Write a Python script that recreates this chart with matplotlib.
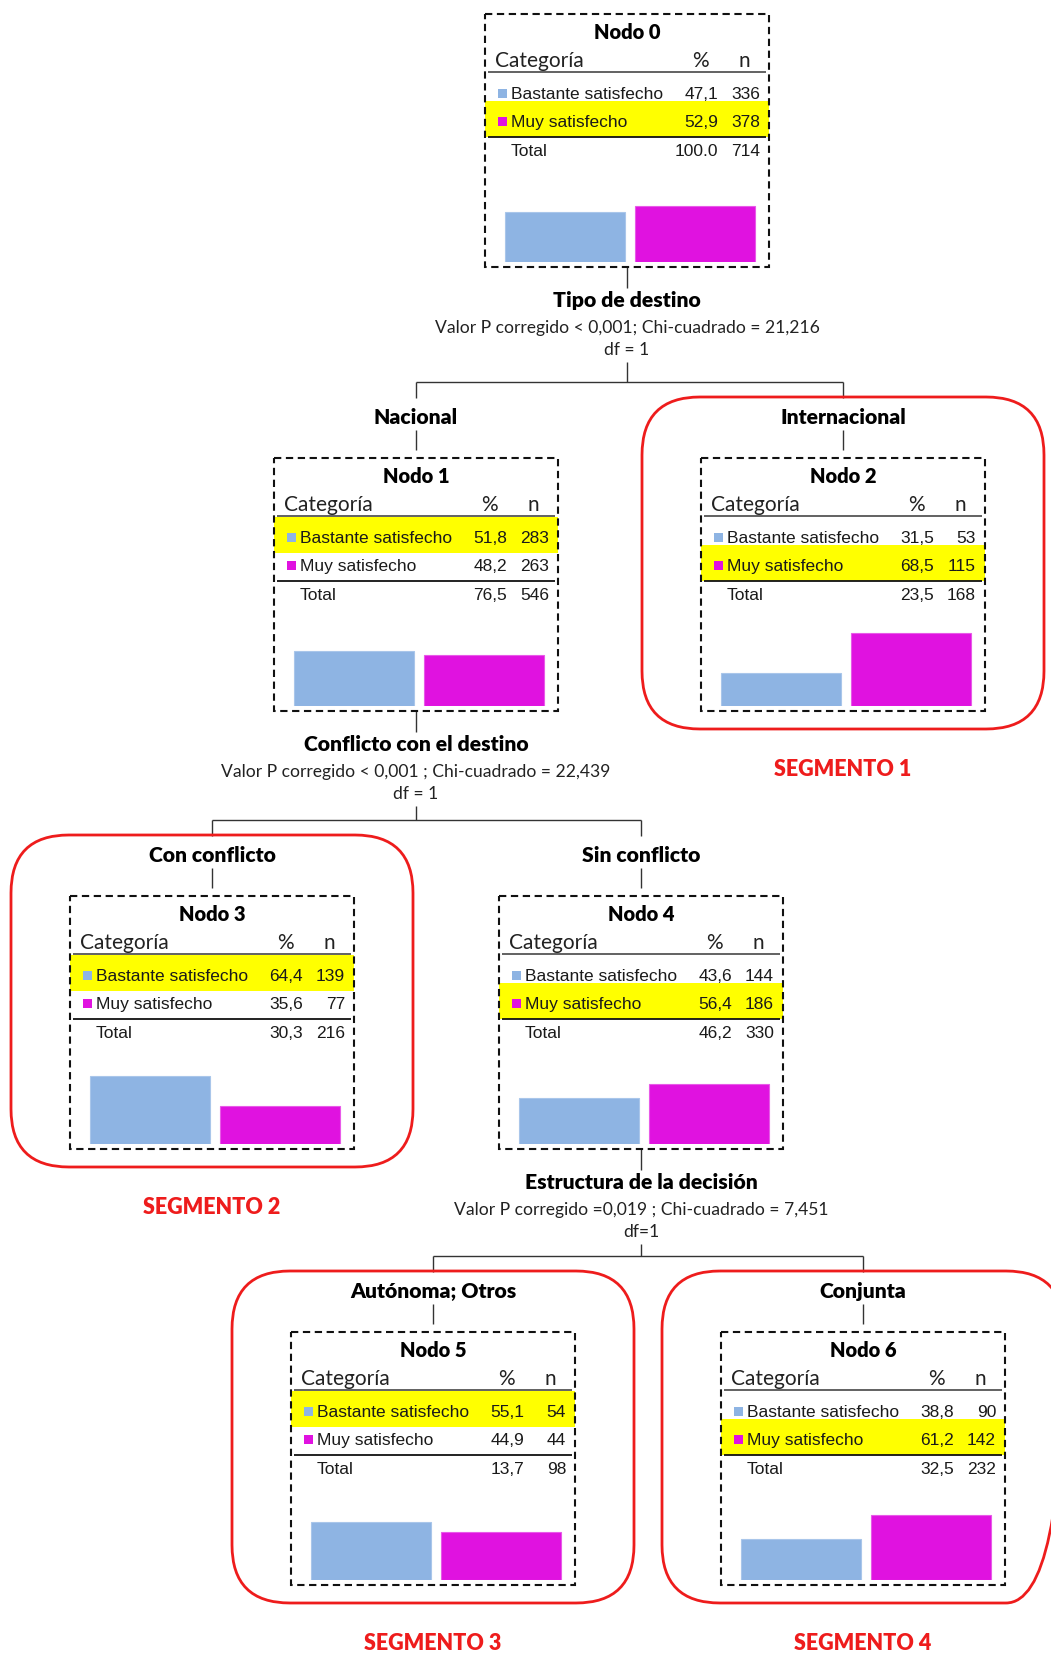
import matplotlib
matplotlib.use("Agg")
import matplotlib.pyplot as plt
from matplotlib.patches import Rectangle, FancyBboxPatch

# ---------------- data ----------------
categories = ["Bastante satisfecho", "Muy satisfecho"]
node_ids = [0, 1, 2, 3, 4, 5, 6]
pct_bastante = [47.1, 51.8, 31.5, 64.4, 43.6, 55.1, 38.8]
pct_muy = [52.9, 48.2, 68.5, 35.6, 56.4, 44.9, 61.2]
n_bastante = [336, 283, 53, 139, 144, 54, 90]
n_muy = [378, 263, 115, 77, 186, 44, 142]
total_pct_labels = ["100.0", "76,5", "23,5", "30,3", "46,2", "13,7", "32,5"]
n_total = [714, 546, 168, 216, 330, 98, 232]

split_parents = [0, 1, 4]
split_vars = ["Tipo de destino", "Conflicto con el destino", "Estructura de la decisión"]
split_stats = ["Valor P corregido < 0,001; Chi-cuadrado = 21,216",
               "Valor P corregido < 0,001 ; Chi-cuadrado = 22,439",
               "Valor P corregido =0,019 ; Chi-cuadrado = 7,451"]
split_df = ["df = 1", "df = 1", "df=1"]
split_children = [(1, 2), (3, 4), (5, 6)]
branch_labels = {1: "Nacional", 2: "Internacional", 3: "Con conflicto",
                 4: "Sin conflicto", 5: "Autónoma; Otros", 6: "Conjunta"}
segment_nodes = [2, 3, 5, 6]
segment_labels = ["SEGMENTO 1", "SEGMENTO 2", "SEGMENTO 3", "SEGMENTO 4"]

# ---------------- layout (pixels) ----------------
W, H = 1051, 1655
node_pos = {0: (485, 14), 1: (274, 458), 2: (701, 458), 3: (70, 896),
            4: (499, 896), 5: (291, 1332), 6: (721, 1332)}
BW, BH = 284, 253

C_BLUE = "#8EB4E3"
C_MAG = "#E012E0"
C_YEL = "#FFFF00"
C_RED = "#EE1C1C"
C_LINE = "#333333"

CAL = ["Lato", "DejaVu Sans"]
NAR = ["Liberation Sans", "DejaVu Sans"]
FS_ROW = 12.5

fig = plt.figure(figsize=(W / 100, H / 100), dpi=100)
fig.patch.set_facecolor("white")
ax = fig.add_axes([0, 0, 1, 1])
ax.set_xlim(0, W)
ax.set_ylim(H, 0)
ax.axis("off")


def fmt(v):
    return f"{v:.1f}".replace(".", ",")


def line(x0, y0, x1, y1, **kw):
    ax.plot([x0, x1], [y0, y1], color=kw.get("color", C_LINE), lw=kw.get("lw", 1.0),
            solid_capstyle="butt", zorder=kw.get("zorder", 2))


# ---------------- nodes ----------------
for i in node_ids:
    L, T = node_pos[i]
    cx = L + BW / 2
    hl = 0 if pct_bastante[i] > pct_muy[i] else 1
    row_base = [T + 85, T + 113]
    yb = row_base[hl]
    ax.add_patch(Rectangle((L, yb - 26), BW, 36, facecolor=C_YEL, edgecolor="none", zorder=1))
    ax.add_patch(Rectangle((L, T), BW, BH, facecolor="none", edgecolor="#111111",
                           lw=1.5, linestyle=(0, (3.5, 2.2)), zorder=4))
    ax.text(cx, T + 25, f"Nodo {i}", family=CAL, fontweight="heavy", fontsize=14.5,
            ha="center", va="baseline", color="black", zorder=5)
    ax.text(L + 10, T + 53, "Categoría", family=CAL, fontsize=15, ha="left",
            va="baseline", color="#222222", zorder=5)
    ax.text(L + 215, T + 53, "%", family=CAL, fontsize=15, ha="center",
            va="baseline", color="#222222", zorder=5)
    ax.text(L + 259, T + 53, "n", family=CAL, fontsize=15, ha="center",
            va="baseline", color="#222222", zorder=5)
    line(L + 3, T + 58, L + BW - 3, T + 58, color="#555555", lw=1.3)
    line(L + 3, T + 123, L + BW - 3, T + 123, color="#111111", lw=1.3)
    vals = [(categories[0], pct_bastante[i], n_bastante[i], C_BLUE),
            (categories[1], pct_muy[i], n_muy[i], C_MAG)]
    for r, (lab, p, n, col) in enumerate(vals):
        b = row_base[r]
        ax.add_patch(Rectangle((L + 13, b - 10), 9, 9, facecolor=col, edgecolor="none", zorder=5))
        ax.text(L + 26, b, lab, family=NAR, fontsize=FS_ROW, ha="left", va="baseline",
                color="#1a1a1a", zorder=5)
        ax.text(L + 233, b, fmt(p), family=NAR, fontsize=FS_ROW, ha="right", va="baseline",
                color="#1a1a1a", zorder=5)
        ax.text(L + 275, b, str(n), family=NAR, fontsize=FS_ROW, ha="right", va="baseline",
                color="#1a1a1a", zorder=5)
    ax.text(L + 26, T + 142, "Total", family=NAR, fontsize=FS_ROW, ha="left", va="baseline",
            color="#1a1a1a", zorder=5)
    ax.text(L + 233, T + 142, total_pct_labels[i], family=NAR, fontsize=FS_ROW, ha="right",
            va="baseline", color="#1a1a1a", zorder=5)
    ax.text(L + 275, T + 142, str(n_total[i]), family=NAR, fontsize=FS_ROW, ha="right",
            va="baseline", color="#1a1a1a", zorder=5)
    # bar chart inset: 0-100 % spans 106 px
    bx = fig.add_axes([(L + 15) / W, (H - (T + 248)) / H, 260 / W, 106 / H])
    bx.set_xlim(-0.5, 1.5)
    bx.set_ylim(0, 100)
    bx.axis("off")
    bx.bar([0, 1], [pct_bastante[i], pct_muy[i]], width=0.93,
           color=[C_BLUE, C_MAG], edgecolor=["#A9C6EA", "#E85AE8"], linewidth=0.8)

# ---------------- splits ----------------
for k, p in enumerate(split_parents):
    L, T = node_pos[p]
    B = T + BH
    cx = L + BW / 2
    line(cx, B, cx, B + 21)
    ax.text(cx, B + 40, split_vars[k], family=CAL, fontweight="heavy", fontsize=15.2,
            ha="center", va="baseline", color="black")
    ax.text(cx, B + 66, split_stats[k], family=CAL, fontsize=12.6, ha="center",
            va="baseline", color="#222222")
    ax.text(cx, B + 88, split_df[k], family=CAL, fontsize=12.6, ha="center",
            va="baseline", color="#222222")
    c1, c2 = split_children[k]
    ct = node_pos[c1][1]
    hy = ct - 76
    line(cx, B + 95, cx, hy)
    x1 = node_pos[c1][0] + BW / 2
    x2 = node_pos[c2][0] + BW / 2
    line(x1, hy, x2, hy)
    for c, xc in ((c1, x1), (c2, x2)):
        lb = node_pos[c][1] - 34
        line(xc, hy, xc, lb - 26)
        ax.text(xc, lb, branch_labels[c], family=CAL, fontweight="heavy", fontsize=15.2,
                ha="center", va="baseline", color="black")
        line(xc, lb + 6, xc, node_pos[c][1] - 8)

# ---------------- segments ----------------
for s, c in enumerate(segment_nodes):
    L, T = node_pos[c]
    x0, y0 = L - 59, T - 61
    w, h = BW + 118, BH + 79
    ax.add_patch(FancyBboxPatch((x0, y0), w, h,
                                boxstyle="round,pad=0,rounding_size=58",
                                facecolor="none", edgecolor=C_RED, lw=2.0, zorder=3))
    ax.text(L + BW / 2, T + BH + 65, segment_labels[s], family=CAL, fontweight="heavy",
            fontsize=15.5, ha="center", va="baseline", color=C_RED)

fig.savefig("out.png", dpi=100, facecolor="white")
